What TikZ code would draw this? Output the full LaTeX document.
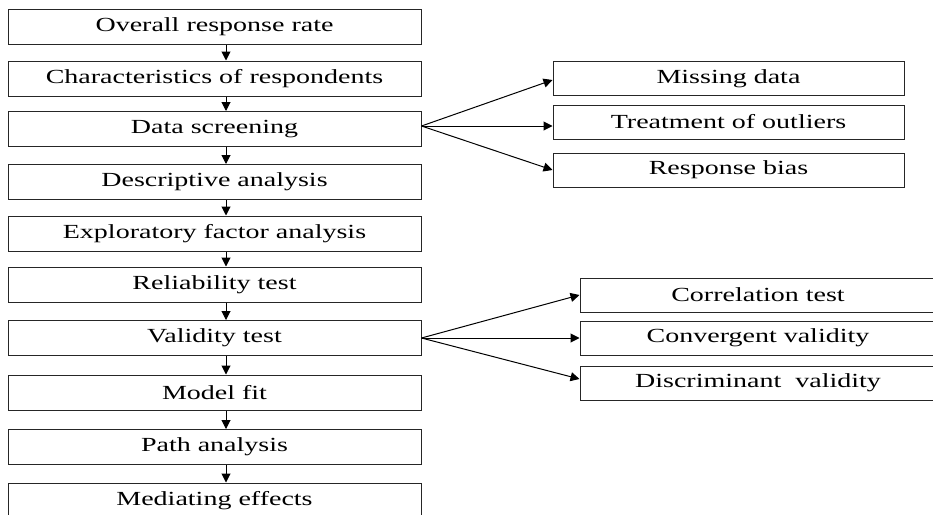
\documentclass[tikz,border=0pt]{standalone}
\usepackage{fontspec}
\usepackage{graphicx}
\setmainfont{Liberation Serif}
\newcommand{\widetext}[1]{\scalebox{1.4}[1]{#1}}
\usetikzlibrary{arrows.meta,positioning}

\begin{document}
\begin{tikzpicture}[x=1pt,y=-1pt,
stage/.style={rectangle, draw=black!85, line width=1pt, inner sep=0pt,
minimum width=413pt, minimum height=35pt,
font=\fontsize{20}{24}\selectfont},
sub/.style={stage, minimum width=351pt, minimum height=34pt},
link/.style={-{Triangle[length=9pt,width=9pt]}, line width=1pt}]

\useasboundingbox (0,0) rectangle (933,514);
\clip (0,0) rectangle (933,514);

% main flow
\node[stage] at (214.5, 27) (rate) {\widetext{Overall response rate}};
\node[stage] at (214.5, 78.5) (chars) {\widetext{Characteristics of respondents}};
\node[stage] at (214.5, 129) (screen) {\widetext{Data screening}};
\node[stage] at (214.5, 182) (desc) {\widetext{Descriptive analysis}};
\node[stage] at (214.5, 233.5) (efa) {\widetext{Exploratory factor analysis}};
\node[stage] at (214.5, 284.5) (rel) {\widetext{Reliability test}};
\node[stage] at (214.5, 338) (valid) {\widetext{Validity test}};
\node[stage] at (214.5, 392.5) (fit) {\widetext{Model fit}};
\node[stage] at (214.5, 447) (path) {\widetext{Path analysis}};
\node[stage] at (214.5, 500.5) (med) {\widetext{Mediating effects}};

% data screening steps
\node[sub] at (728.5, 78.5) (miss) {\widetext{Missing data}};
\node[sub] at (728.5, 122) (outl) {\widetext{Treatment of outliers}};
\node[sub] at (728.5, 170) (bias) {\widetext{Response bias}};

% validity steps
\node[sub, minimum width=356pt] at (758, 295) (corr) {\widetext{Correlation test}};
\node[sub, minimum width=356pt] at (758, 338) (conv) {\widetext{Convergent validity}};
\node[sub, minimum width=356pt] at (758, 383) (disc) {\widetext{Discriminant\ \ validity}};

\draw[link] ([xshift=11.5pt]rate.south) -- ([xshift=11.5pt]chars.north);
\draw[link] ([xshift=11.5pt]chars.south) -- ([xshift=11.5pt]screen.north);
\draw[link] ([xshift=11.5pt]screen.south) -- ([xshift=11.5pt]desc.north);
\draw[link] ([xshift=11.5pt]desc.south) -- ([xshift=11.5pt]efa.north);
\draw[link] ([xshift=11.5pt]efa.south) -- ([xshift=11.5pt]rel.north);
\draw[link] ([xshift=11.5pt]rel.south) -- ([xshift=11.5pt]valid.north);
\draw[link] ([xshift=11.5pt]valid.south) -- ([xshift=11.5pt]fit.north);
\draw[link] ([xshift=11.5pt]fit.south) -- ([xshift=11.5pt]path.north);
\draw[link] ([xshift=11.5pt]path.south) -- ([xshift=11.5pt]med.north);

\coordinate (screenout) at ([yshift=3pt]screen.east);
\draw[link] (screenout) -- ([yshift=-1.5pt]miss.west);
\draw[link] (screenout) -- (outl.west |- screenout);
\draw[link] (screenout) -- (bias.west);

\draw[link] (valid.east) -- (corr.west);
\draw[link] (valid.east) -- (conv.west);
\draw[link] (valid.east) -- ([yshift=4pt]disc.west);

\end{tikzpicture}
\end{document}
